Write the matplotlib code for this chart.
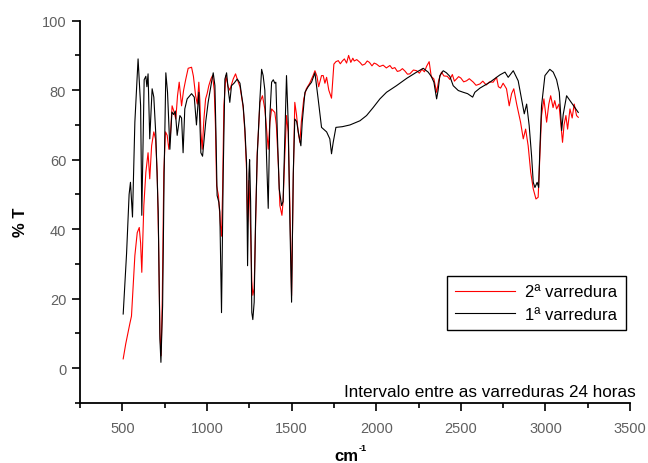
# Espectro de IV - duas varreduras com intervalo de 24 horas
import matplotlib.pyplot as plt
from matplotlib.ticker import MultipleLocator

# 1a varredura (preto) - numero de onda (cm-1) e %T
onda1 = [505, 525, 540, 548, 560, 574, 593, 608, 615, 629, 639, 645, 652, 662, 676, 686, 698, 712,
         722, 728, 738, 747, 757, 767, 781, 793, 803, 813, 824, 840, 850, 859, 869, 883, 909, 925,
         938, 952, 964, 974, 993, 1007, 1027, 1037, 1047, 1053, 1060, 1070, 1076, 1086, 1096, 1106,
         1116, 1126, 1135, 1145, 1160, 1179, 1195, 1205, 1214, 1224, 1234, 1240, 1248, 1252, 1258,
         1265, 1271, 1279, 1287, 1297, 1313, 1323, 1332, 1342, 1352, 1362, 1372, 1382, 1392, 1401,
         1407, 1417, 1427, 1441, 1450, 1460, 1470, 1480, 1490, 1500, 1510, 1519, 1530, 1543, 1555,
         1563, 1579, 1598, 1618, 1638, 1657, 1677, 1707, 1726, 1736, 1746, 1762, 1800, 1845, 1904,
         1943, 1982, 2022, 2061, 2120, 2180, 2239, 2278, 2307, 2325, 2341, 2357, 2366, 2376, 2396,
         2415, 2435, 2455, 2485, 2514, 2540, 2570, 2583, 2613, 2672, 2731, 2761, 2780, 2810, 2839,
         2859, 2875, 2889, 2904, 2918, 2928, 2938, 2951, 2960, 2967, 2977, 2997, 3026, 3046, 3066,
         3082, 3092, 3096, 3105, 3125, 3145, 3174, 3194]
trans1 = [15.6, 33, 50, 53.5, 43.5, 70.8, 89, 75.5, 44, 83, 84, 81, 84.7, 66, 80.4, 78, 67, 45,
          8.4, 1.7, 18, 56, 85, 79.4, 63, 73.7, 73, 74, 67, 72.7, 72, 62, 74.6, 77.5, 79, 78,
          70, 79.4, 62, 61, 71, 76.5, 82.3, 85, 81.3, 68, 49.7, 47.8, 45, 16, 56, 83.2,
          85, 80, 76.5, 81.3, 82, 83.2, 82, 78.4, 75.5, 69, 59, 29.5, 56, 60, 48,
          16, 14, 19, 42, 61, 77.5, 86, 84.2, 80, 61, 46, 72.7, 82.3, 83, 82,
          82.3, 66, 51.6, 46.8, 48, 66, 84.2, 70.8, 42, 19, 56, 71.7, 71, 67, 64,
          70.8, 79.4, 81, 82.3, 85, 77.5, 69.3, 68, 66, 61.7, 65, 69.3, 69.5, 70, 71.2,
          72.7, 75, 77.5, 79.4, 81.3, 83.4, 85.2, 86.3, 85.2, 84, 82.3, 77.5, 80, 84.2, 85.6,
          85, 84, 81.3, 79.9, 79.4, 79, 78, 79.4, 80.6, 82.3, 84.4, 85.2, 83.7, 85.6, 82.7,
          77.5, 73.2, 76, 69.8, 61.2, 53.5, 52, 53.5, 52, 63, 75.5, 84.2, 86, 85.2, 83,
          79.4, 71.7, 68.4, 73, 78.4, 77, 75, 73.6]

# 2a varredura (vermelho)
onda2 = [505, 520, 534, 545, 554, 574, 588, 600, 608, 615, 627, 639, 652, 662, 673, 686, 696, 706,
         714, 722, 729, 736, 745, 755, 765, 775, 784, 794, 804, 816, 826, 836, 843, 850, 862, 875,
         889, 909, 920, 933, 943, 952, 958, 964, 972, 982, 992, 1001, 1011, 1023, 1033, 1043, 1050,
         1057, 1068, 1080, 1086, 1092, 1100, 1112, 1125, 1135, 1155, 1169, 1180, 1195, 1205, 1214,
         1224, 1234, 1240, 1248, 1255, 1265, 1271, 1279, 1287, 1297, 1303, 1313, 1328, 1342, 1352,
         1362, 1372, 1382, 1401, 1410, 1422, 1431, 1443, 1450, 1460, 1470, 1480, 1490, 1500, 1510,
         1519, 1529, 1539, 1549, 1558, 1572, 1587, 1607, 1627, 1638, 1650, 1660, 1667, 1677, 1687,
         1697, 1707, 1720, 1736, 1750, 1762, 1776, 1788, 1800, 1812, 1825, 1837, 1850, 1862, 1870,
         1885, 1904, 1918, 1933, 1947, 1960, 1975, 1988, 2002, 2020, 2041, 2060, 2081, 2095, 2110,
         2125, 2140, 2155, 2170, 2185, 2199, 2220, 2239, 2255, 2270, 2285, 2298, 2313, 2325, 2341,
         2357, 2370, 2386, 2400, 2420, 2435, 2450, 2462, 2474, 2487, 2500, 2517, 2534, 2550, 2574,
         2590, 2613, 2630, 2650, 2670, 2691, 2711, 2722, 2735, 2750, 2770, 2786, 2800, 2813, 2830,
         2853, 2869, 2883, 2898, 2913, 2928, 2944, 2957, 2967, 2977, 2991, 3007, 3020, 3031, 3045,
         3055, 3066, 3080, 3092, 3101, 3110, 3121, 3131, 3145, 3158, 3170, 3184, 3194]
trans2 = [2.7, 7, 10.4, 13, 15, 32.4, 39, 40.5, 36, 27.6, 46.8, 56.4, 62, 54.5, 64, 68, 66, 56.4,
          37, 10.4, 3.6, 20, 56.4, 68, 67, 63, 67, 75.5, 74, 71.7, 78.4, 82.3, 79, 75.5, 80, 83.2,
          86.3, 86.6, 84, 78.4, 76, 82.3, 77, 68, 63, 71.7, 77.5, 79, 81.3, 83.2, 84.2, 80, 70,
          52.5, 49.7, 41, 38, 50, 75.5, 84.2, 81, 80, 83.2, 84.7, 83, 81, 78, 75,
          68, 57, 42, 54, 45, 25, 21, 23, 40, 62, 67, 76.5, 78.4, 74.6, 69,
          63, 70.8, 74.6, 73.6, 70, 58.3, 46.8, 44, 48, 61.2, 72.7, 68, 46.8, 20.9, 54.5,
          76.5, 73, 68, 65, 71, 77.5, 80.4, 82, 84.2, 85.6, 84, 81, 82.3, 84.2, 84.2,
          82, 83.7, 80, 77.7, 87.5, 88.2, 88.5, 87.6, 88.4, 89, 87.8, 90, 88, 89.2, 88.4,
          88.8, 88, 87.2, 87.5, 88.4, 88, 87, 87.8, 87.5, 86.8, 87.2, 86.4, 87.1, 86.2, 86.5,
          85.4, 85.6, 86.2, 85.5, 84.6, 84.7, 85.8, 85.6, 84.9, 86, 85.3, 86.9, 88.2, 84, 83.2,
          79.4, 83, 85.2, 84.1, 84, 83.1, 84.5, 82.6, 83.2, 83.9, 83.5, 82.4, 82.7, 83.3, 82.3,
          81.4, 81.8, 82.6, 81.5, 82.4, 82.3, 83.7, 81, 80.6, 82, 80.4, 75.5, 79, 80.4, 76,
          70.8, 66, 68.8, 64, 56.4, 51.6, 48.7, 49.2, 61.2, 72.7, 77.5, 70.8, 76, 78.4, 75,
          77, 74.6, 76, 69.8, 65, 70, 72.7, 68.8, 74.6, 72, 76, 72.7, 72.2]

fig = plt.figure(figsize=(6.48, 4.64), dpi=100)
ax = fig.add_axes([0.1235, 0.1293, 0.8488, 0.824])

l2, = ax.plot(onda2, trans2, color='red', linewidth=0.8)
l1, = ax.plot(onda1, trans1, color='black', linewidth=0.8)

ax.set_xlim(250, 3500)
ax.set_ylim(-10, 100)
ax.xaxis.set_major_locator(MultipleLocator(500))
ax.xaxis.set_minor_locator(MultipleLocator(250))
ax.yaxis.set_major_locator(MultipleLocator(20))
ax.yaxis.set_minor_locator(MultipleLocator(10))

ax.spines['top'].set_visible(False)
ax.spines['right'].set_visible(False)
ax.spines['left'].set_linewidth(1.3)
ax.spines['bottom'].set_linewidth(1.3)
ax.tick_params(which='major', direction='out', length=6, width=1.2, labelsize=10.5,
               labelcolor='#606060')
ax.tick_params(axis='x', which='major', pad=7)
ax.tick_params(axis='y', which='major', pad=4)
ax.tick_params(which='minor', direction='out', length=3.5, width=1.2)
for lab in ax.get_xticklabels() + ax.get_yticklabels():
    lab.set_family('Liberation Sans')

# titulos dos eixos (cm com expoente -1 pequeno)
fig.text(0.535, 0.006, 'cm', fontsize=12, fontweight='bold', family='Liberation Sans',
         ha='center', va='baseline')
fig.text(0.5535, 0.028, '-1', fontsize=6.5, fontweight='bold', family='Liberation Sans',
         ha='left', va='baseline')
fig.text(0.031, 0.52, '% T', fontsize=12, fontweight='bold', family='Liberation Sans',
         rotation=90, ha='center', va='center')

leg = ax.legend([l2, l1], ['2ª varredura', '1ª varredura'], loc='upper left',
                bbox_to_anchor=(0.667, 0.332), prop={'family': 'Liberation Sans', 'size': 12},
                fancybox=False, edgecolor='black', framealpha=1, handlelength=3.6,
                handletextpad=0.6, borderpad=0.5, labelspacing=0.45, borderaxespad=0)
leg.get_frame().set_linewidth(1.0)

ax.text(1.011, 0.029, 'Intervalo entre as varreduras 24 horas', transform=ax.transAxes,
        ha='right', va='center', fontsize=12.3, family='Liberation Sans')

plt.savefig('out.png', dpi=100)
